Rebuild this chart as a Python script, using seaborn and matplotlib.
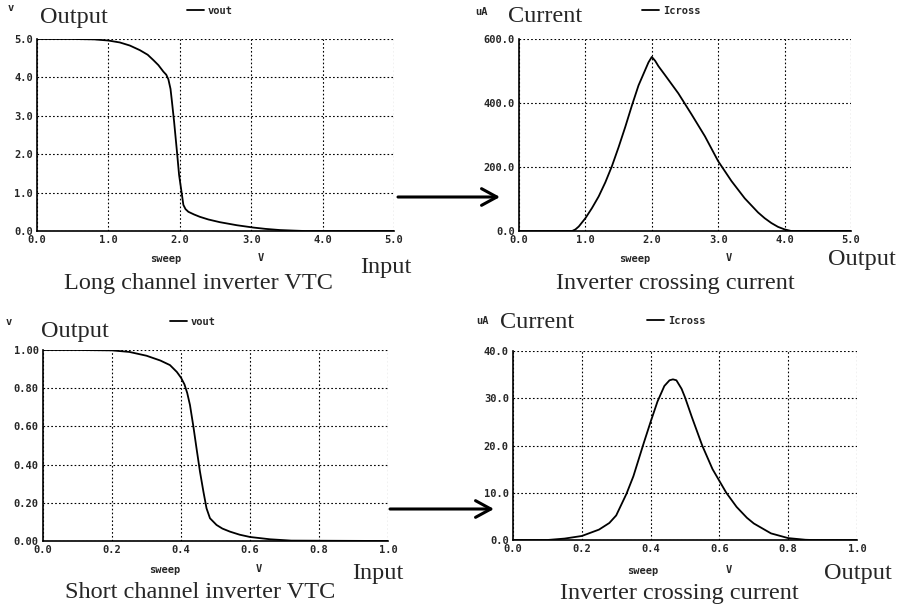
import matplotlib
matplotlib.use('Agg')
import matplotlib.pyplot as plt
from matplotlib.patches import FancyArrowPatch
import numpy as np
import pandas as pd
import seaborn as sns

# long channel inverter VTC (V)
long_vin = [0.0, 0.5, 0.8, 1.0, 1.16, 1.3, 1.44, 1.55, 1.63, 1.7, 1.77, 1.81, 1.84, 1.87, 1.89, 1.92,
            1.96, 1.99, 2.03, 2.05, 2.08, 2.12, 2.2, 2.28, 2.4, 2.56, 2.8, 3.03, 3.2, 3.4, 3.6, 3.75,
            4.0, 5.0]
long_vout = [5.0, 5.0, 4.99, 4.96, 4.91, 4.83, 4.71, 4.59, 4.45, 4.32, 4.15, 4.07, 3.95, 3.7, 3.37, 2.85,
             2.07, 1.46, 0.94, 0.68, 0.57, 0.5, 0.43, 0.37, 0.3, 0.23, 0.15, 0.09, 0.055, 0.025,
             0.01, 0.0, 0.0, 0.0]

# long channel crossing current (uA)
long_isw = [0.0, 0.8, 0.85, 0.9, 1.0, 1.1, 1.2, 1.3, 1.4, 1.5, 1.6, 1.7, 1.8, 1.9, 1.95, 2.0,
            2.05, 2.1, 2.2, 2.4, 2.6, 2.8, 3.0, 3.2, 3.4, 3.6, 3.7, 3.8, 3.9, 4.0, 4.1, 5.0]
long_icross = [0.0, 0.0, 5, 14, 40, 72, 108, 152, 203, 262, 325, 392, 455, 503, 527, 544,
               532, 515, 487, 430, 364, 296, 218, 156, 102, 58, 40, 25, 13, 5, 0.0, 0.0]

# short channel inverter VTC (V)
short_vin = [0.0, 0.1, 0.2, 0.25, 0.3, 0.34, 0.368, 0.388, 0.4, 0.41, 0.418, 0.426, 0.436, 0.445, 0.455,
             0.465, 0.474, 0.484, 0.503, 0.52, 0.542, 0.57, 0.6, 0.658, 0.72, 1.0]
short_vout = [1.0, 1.0, 0.998, 0.99, 0.97, 0.945, 0.921, 0.885, 0.855, 0.82, 0.775, 0.712, 0.598, 0.485,
              0.363, 0.258, 0.171, 0.119, 0.084, 0.065, 0.049, 0.033, 0.021, 0.009, 0.002, 0.0]

# short channel crossing current (uA)
short_isw = [0.0, 0.1, 0.15, 0.2, 0.25, 0.28, 0.3, 0.33, 0.35, 0.38, 0.4, 0.42, 0.44, 0.455, 0.465,
             0.475, 0.49, 0.5, 0.52, 0.55, 0.58, 0.6, 0.62, 0.65, 0.68, 0.7, 0.75, 0.8, 0.85, 0.87, 1.0]
short_icross = [0.0, 0.0, 0.3, 0.85, 2.2, 3.6, 5.2, 9.8, 13.5, 20.5, 25.0, 29.3, 32.6, 33.8, 34.0,
                33.8, 32.0, 30.2, 26.0, 20.0, 15.0, 12.5, 10.0, 7.0, 4.7, 3.5, 1.4, 0.4, 0.05, 0.0, 0.0]

long_ticks = [0.0, 1.0, 2.0, 3.0, 4.0, 5.0]
long_labels = ['0.0', '1.0', '2.0', '3.0', '4.0', '5.0']
cur_ticks = [0, 200, 400, 600]
cur_labels = ['0.0', '200.0', '400.0', '600.0']
short_xticks = [0.0, 0.2, 0.4, 0.6, 0.8, 1.0]
short_xlabels = ['0.0', '0.2', '0.4', '0.6', '0.8', '1.0']
short_yticks = [0.0, 0.2, 0.4, 0.6, 0.8, 1.0]
short_ylabels = ['0.00', '0.20', '0.40', '0.60', '0.80', '1.00']
scur_ticks = [0, 10, 20, 30, 40]
scur_labels = ['0.0', '10.0', '20.0', '30.0', '40.0']

sns.set_style('white')
plt.rcParams['font.family'] = ['DejaVu Sans Mono']

W, H = 903, 608
fig = plt.figure(figsize=(W / 100, H / 100), dpi=100)

mono = {'family': 'DejaVu Sans Mono', 'weight': 'bold'}
serif = ['Liberation Serif', 'DejaVu Serif']


def px(x, y):
    return x / W, 1 - y / H


def make_axes(l, t, r, b):
    return fig.add_axes([l / W, 1 - b / H, (r - l) / W, (b - t) / H])


def panel(ax, x, y, label, xticks, xlabels, yticks, ylabels, xlim, ylim, leg_xy):
    sns.lineplot(x=x, y=y, ax=ax, color='black', linewidth=1.3, label=label, legend=False)
    ax.set_xlim(*xlim)
    ax.set_ylim(*ylim)
    ax.set_xticks(xticks)
    ax.set_xticklabels(xlabels, fontdict=mono, fontsize=7.5)
    ax.set_yticks(yticks)
    ax.set_yticklabels(ylabels, fontdict=mono, fontsize=7.5)
    ax.tick_params(length=0, pad=3)
    ax.grid(True, color='black', linestyle=(0, (1.5, 2)), linewidth=0.8)
    for s in ['top', 'right']:
        ax.spines[s].set_visible(False)
    for s in ['left', 'bottom']:
        ax.spines[s].set_color('black')
        ax.spines[s].set_linewidth(1.2)
    ax.set_xlabel('')
    ax.set_ylabel('')
    ax.legend(loc='center left', bbox_to_anchor=px(*leg_xy), bbox_transform=fig.transFigure,
              frameon=False, handlelength=1.6, handletextpad=0.4, borderpad=0,
              prop={'family': 'DejaVu Sans Mono', 'size': 7.5, 'weight': 'bold'})


ax1 = make_axes(37, 39, 394, 231)
panel(ax1, long_vin, long_vout, 'vout', long_ticks, long_labels, long_ticks, long_labels,
      (0, 5), (0, 5), (182, 11))
ax2 = make_axes(519, 39, 851, 231)
panel(ax2, long_isw, long_icross, 'Icross', long_ticks, long_labels, cur_ticks, cur_labels,
      (0, 5), (0, 600), (637, 11))
ax3 = make_axes(43, 350, 388, 541)
panel(ax3, short_vin, short_vout, 'vout', short_xticks, short_xlabels, short_yticks, short_ylabels,
      (0, 1), (0, 1), (165, 322))
ax4 = make_axes(513, 351, 857, 540)
panel(ax4, short_isw, short_icross, 'Icross', short_xticks, short_xlabels, scur_ticks, scur_labels,
      (0, 1), (0, 40), (642, 321))

# small unit labels
for (x, y, s) in [(11, 8, 'v'), (482, 12, 'uA'), (9, 322, 'v'), (483, 321, 'uA'),
                  (166, 259, 'sweep'), (261, 258, 'V'), (635, 259, 'sweep'), (729, 258, 'V'),
                  (165, 570, 'sweep'), (259, 569, 'V'), (643, 571, 'sweep'), (729, 570, 'V')]:
    fig.text(*px(x, y), s, ha='center', va='center', fontsize=7.5, **mono)

# big serif annotations
for (x, y, s) in [(74, 17, 'Output'), (545, 17, 'Current'), (75, 331, 'Output'), (537, 323, 'Current'),
                  (386, 267, 'Input'), (862, 260, 'Output'), (378, 573, 'Input'), (858, 573, 'Output'),
                  (198, 283, 'Long channel inverter VTC'), (675, 283, 'Inverter crossing current'),
                  (200, 593, 'Short channel inverter VTC'), (679, 593, 'Inverter crossing current')]:
    fig.text(*px(x, y), s, ha='center', va='center', fontsize=17.5, family=serif)

# arrows between panels
for (x0, x1, y) in [(398, 500, 197), (390, 494, 509)]:
    fig.add_artist(FancyArrowPatch(
        px(x0, y), px(x1, y), transform=fig.transFigure,
        arrowstyle='->,head_length=0.55,head_width=0.3', mutation_scale=20,
        color='black', linewidth=2.2, shrinkA=0, shrinkB=0))

fig.savefig('out.png', dpi=100)
